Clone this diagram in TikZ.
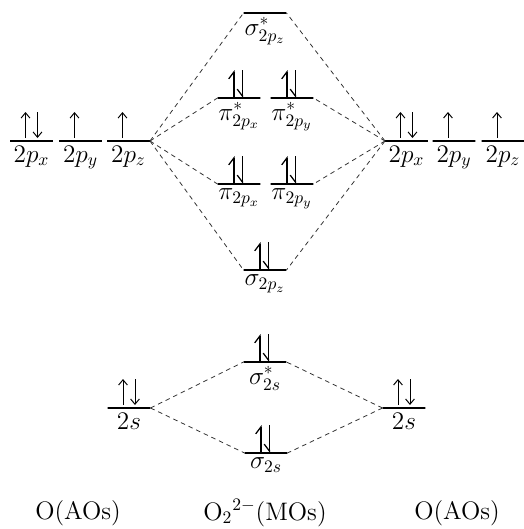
\documentclass[tikz,border=0pt]{standalone}
\usepackage{amsmath,amssymb}
\usepackage{tikz}
\usetikzlibrary{positioning,arrows.meta}

\begin{document}
\begin{tikzpicture}[
  x=0.02cm, y=0.02cm,
  mol/.style={draw=black, line width=1.3pt, minimum width=0.86cm, minimum height=0pt, inner sep=0pt, outer sep=0pt},
  every label/.style={font={\Large}, inner sep=2.5pt},
  corr/.style={dash pattern=on 2.6pt off 2.2pt, line width=0.45pt, black!80},
  eup/.style={line width=0.55pt, -{Straight Barb[length=3pt,width=5pt]}},
  hup/.style={line width=0.7pt, -{Straight Barb[harpoon,length=4pt,width=6pt]}},
  hdn/.style={line width=0.7pt, -{Straight Barb[harpoon,swap,length=4pt,width=6pt]}}
]
\useasboundingbox (0,0) rectangle (524,529);
% oxygen atom, left
\node[mol, label=below:{$2p_x$}] (l0) at (31.5,388) {};
\node[mol, label=below:{$2p_y$}] (l1) at (80.5,388) {};
\node[mol, label=below:{$2p_z$}] (l2) at (128.5,388) {};
\node[mol, label=below:{$2s$}] (ls) at (129,121) {};
% oxygen atom, right
\node[mol, label=below:{$2p_x$}] (r0) at (406.5,388) {};
\node[mol, label=below:{$2p_y$}] (r1) at (454,388) {};
\node[mol, label=below:{$2p_z$}] (r2) at (503,388) {};
\node[mol, label=below:{$2s$}] (rs) at (404,121) {};
% molecule
\node[mol, label=below:{$\sigma^{*}_{2p_z}$}] (sgsp) at (265,516) {};
\node[mol, label=below:{$\pi^{*}_{2p_x}$}] (pisx) at (239,431) {};
\node[mol, label=below:{$\pi^{*}_{2p_y}$}] (pisy) at (292,431) {};
\node[mol, label=below:{$\pi_{2p_x}$}] (pix) at (239,345) {};
\node[mol, label=below:{$\pi_{2p_y}$}] (piy) at (292,345) {};
\node[mol, label=below:{$\sigma_{2p_z}$}] (sgp) at (265,259) {};
\node[mol, label=below:{$\sigma^{*}_{2s}$}] (sgss) at (265,167) {};
\node[mol, label=below:{$\sigma_{2s}$}] (sgs) at (266,76) {};
% captions
\node[font={\Large}] (capl) at (78,16) {O(AOs)};
\node[font={\Large}] (capm) at (265,16) {O$_2{}^{2-}$(MOs)};
\node[font={\Large}] (capr) at (457,16) {O(AOs)};
% correlation lines
\foreach \m in {sgsp,pisx,pix,sgp} \draw[corr] (l2.east) -- (\m.west);
\foreach \m in {sgsp,pisy,piy,sgp} \draw[corr] (r0.west) -- (\m.east);
\foreach \m in {sgss,sgs} {
  \draw[corr] (ls.east) -- (\m.west);
  \draw[corr] (rs.west) -- (\m.east);
}
% electrons
\foreach \n in {l0,r0,ls,rs} {
  \draw[eup] ([shift={(-6,3)}]\n.center) -- ++(0,26);
  \draw[eup] ([shift={(6,29)}]\n.center) -- ++(0,-26);
}
\foreach \n in {l1,l2,r1,r2} \draw[eup] ([shift={(-6,3)}]\n.center) -- ++(0,26);
\foreach \n in {pisx,pisy,pix,piy,sgp,sgss,sgs} {
  \draw[hup] ([xshift=-0.1cm]\n.center) -- ++(0,28);
  \draw[hdn] ([xshift=0.07cm]\n.center) ++(0,28) -- ++(0,-28);
}
\end{tikzpicture}
\end{document}
